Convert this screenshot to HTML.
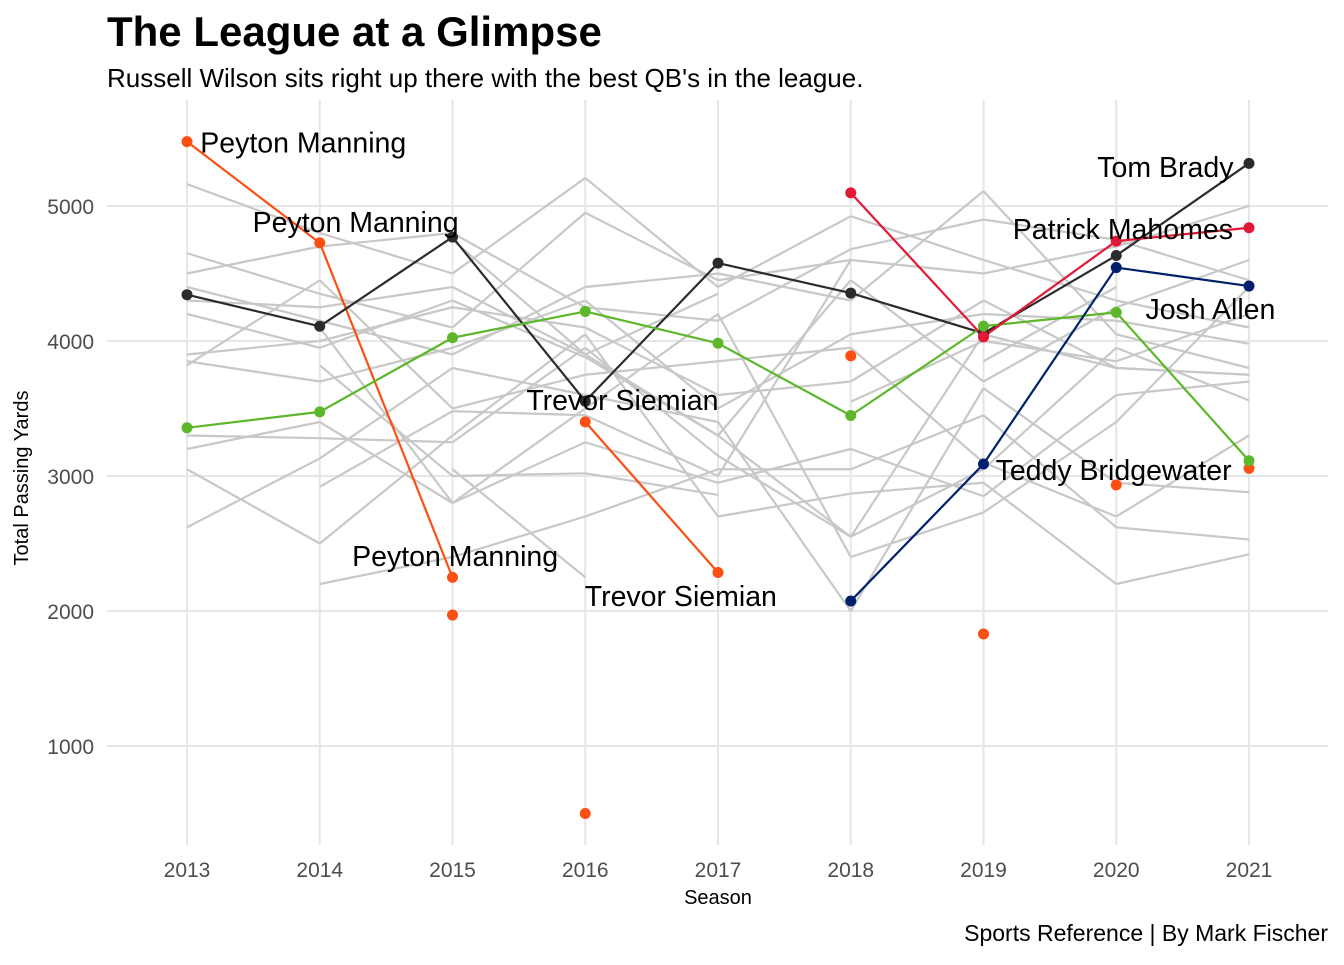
<!DOCTYPE html>
<html><head><meta charset="utf-8"><style>
body{margin:0;background:#fff;font-family:"Liberation Sans",Arial,sans-serif}
svg text{font-family:"Liberation Sans",Arial,sans-serif}
</style></head><body>
<svg id="chart" width="1344" height="960">
<text x="107" y="46" font-size="42" font-weight="bold" fill="#000">The League at a Glimpse</text>
<text x="107" y="87" font-size="26" fill="#000">Russell Wilson sits right up there with the best QB's in the league.</text>
<text x="1328" y="941" font-size="23" fill="#000" text-anchor="end">Sports Reference | By Mark Fischer</text>
<text x="718" y="904" font-size="20" fill="#000" text-anchor="middle">Season</text>
<text x="28" y="478" font-size="20" fill="#000" text-anchor="middle" transform="rotate(-90 28 478)">Total Passing Yards</text>
<g id="grid"></g><g id="gray"></g><g id="hl"></g><g id="labels"></g>
</svg>
<script>
const seasons=[2013,2014,2015,2016,2017,2018,2019,2020,2021];
const yTicks=[1000,2000,3000,4000,5000];
const grayA=[5162,4800,4500,5208,4400,4924,4600,4300,4100];
const grayB=[4650,4350,4100,4950,4450,4600,4500,4700,5000];
const grayC=[4500,4700,4800,4250,4150,4680,4900,4750,4450];
const grayD=[4400,4150,3900,4400,4500,4300,5110,4050,3800];
const grayE=[4300,4250,4400,3900,3300,4450,3700,4250,4600];
const grayF=[3900,4000,4250,4100,3600,3700,4300,3800,3750];
const grayG=[3850,3700,3950,4300,3500,4050,4200,4150,3980];
const grayH=[3820,4450,3500,3750,3850,3950,3100,2700,3300];
const grayI=[3300,3280,3250,3950,3150,2550,3050,3950,3560];
const grayJ=[3200,3400,2800,3250,2950,3200,2850,3600,3700];
const grayK=[3050,2500,3300,4050,2700,2870,2950,2200,2420];
const grayL=[2620,3130,3800,3600,3400,2000,3650,2950,2880];
const grayM=[null,4100,2800,3500,4200,2400,2730,3400,4400];
const grayN=[null,2200,2400,2700,3050,3050,3450,2620,2530];
const grayO=[null,2920,3480,3450,3000,4600,null,null,null];
const grayP=[null,3820,3000,3020,2860,null,null,null,null];
const grayQ=[null,null,3050,2250,null,3550,4000,3850,4200];
const grayR=[null,null,4750,3900,4350,null,3850,4400,null];
const grayS=[4200,3950,4300,3880,3300,2550,4050,3800,3750];
const grays=[grayA,grayB,grayC,grayD,grayE,grayF,grayG,grayH,grayI,grayJ,grayK,grayL,grayM,grayN,grayO,grayP,grayQ,grayR,grayS];
const broncos=[5477,4727,2249,3401,2285,3890,1830,2933,3057];
const broncosLinked=[1,1,1,1,1,0,0,0,0];
const broncosExtraX=[2015,2016];
const broncosExtraY=[1970,500];
const brady=[4343,4109,4770,3554,4577,4355,4057,4633,5316];
const wilson=[3357,3475,4024,4219,3983,3448,4110,4212,3113];
const mahomes=[null,null,null,null,null,5097,4031,4740,4839];
const allen=[null,null,null,null,null,2074,3089,4544,4407];
const labelText=["Peyton Manning","Peyton Manning","Peyton Manning","Trevor Siemian","Trevor Siemian","Tom Brady","Patrick Mahomes","Josh Allen","Teddy Bridgewater"];
const labelX=[2013.1,2014.27,2015.02,2016.28,2016.72,2020.37,2020.05,2020.22,2019.98];
const labelY=[5470,4881,2407,3563,2111,5289,4830,4237,3044];
const labelAnchor=["start","middle","middle","middle","middle","middle","middle","start","middle"];

const X=s=>187+(s-2013)*132.75;
const Y=v=>746-(v-1000)*0.135;
const NS="http://www.w3.org/2000/svg";
function mk(tag,attrs,parent){const e=document.createElementNS(NS,tag);for(const k in attrs)e.setAttribute(k,attrs[k]);parent.appendChild(e);return e;}
const grid=document.getElementById('grid');
yTicks.forEach(t=>{
 const l=mk('line',{x1:107,x2:1328,y1:Y(t),y2:Y(t),stroke:'#e6e6e6','stroke-width':2},grid);
 
 
 const tx=mk('text',{x:94,y:Y(t)+8,'font-size':21,fill:'#4d4d4d','text-anchor':'end'},grid);
 tx.textContent=t;
 
 
});
seasons.forEach(s=>{
 const l=mk('line',{x1:X(s),x2:X(s),y1:100,y2:845,stroke:'#e6e6e6','stroke-width':2},grid);
 
 
 const tx=mk('text',{x:X(s),y:877,'font-size':21,fill:'#4d4d4d','text-anchor':'middle'},grid);
 tx.textContent=s;
 
 
});
function drawLine(vals,color,parent,name,linked){
 for(let i=0;i<vals.length-1;i++){
  if(vals[i]==null||vals[i+1]==null)continue;
  if(linked&&!(linked[i]&&linked[i+1]))continue;
  if(linked&&i==2)continue;
  const l=mk('line',{x1:X(seasons[i]),y1:Y(vals[i]),x2:X(seasons[i+1]),y2:Y(vals[i+1]),stroke:color,'stroke-width':2.2},parent);
  
  
 }
}
function drawPts(vals,color,parent,name){
 vals.forEach((v,i)=>{if(v==null)return;
  const c=mk('circle',{cx:X(seasons[i]),cy:Y(v),r:5.5,fill:color},parent);
  
  
 });
}
const gg=document.getElementById('gray');
grays.forEach(g=>drawLine(g,'#c8c8c8',gg,'other-qb'));
const hl=document.getElementById('hl');
drawLine(broncos,'#fb4f14',hl,'broncos',broncosLinked);
drawLine(brady,'#2b2b2b',hl,'tom-brady');
drawLine(wilson,'#5cb82a',hl,'russell-wilson');
drawLine(mahomes,'#e31837',hl,'patrick-mahomes');
drawLine(allen,'#00206b',hl,'josh-allen');
drawPts(broncos,'#fb4f14',hl,'broncos');
broncosExtraX.forEach((s,i)=>{
 const c=mk('circle',{cx:X(s),cy:Y(broncosExtraY[i]),r:5.5,fill:'#fb4f14'},hl);
 
 
});
drawPts(brady,'#2b2b2b',hl,'tom-brady');
drawPts(wilson,'#5cb82a',hl,'russell-wilson');
drawPts(mahomes,'#e31837',hl,'patrick-mahomes');
drawPts(allen,'#00206b',hl,'josh-allen');
const lb=document.getElementById('labels');
labelText.forEach((t,i)=>{
 const tx=mk('text',{x:X(labelX[i]),y:Y(labelY[i])+10,'font-size':28.5,fill:'#000','text-anchor':labelAnchor[i]},lb);
 tx.textContent=t;
 
 
});
</script>
</body></html>
